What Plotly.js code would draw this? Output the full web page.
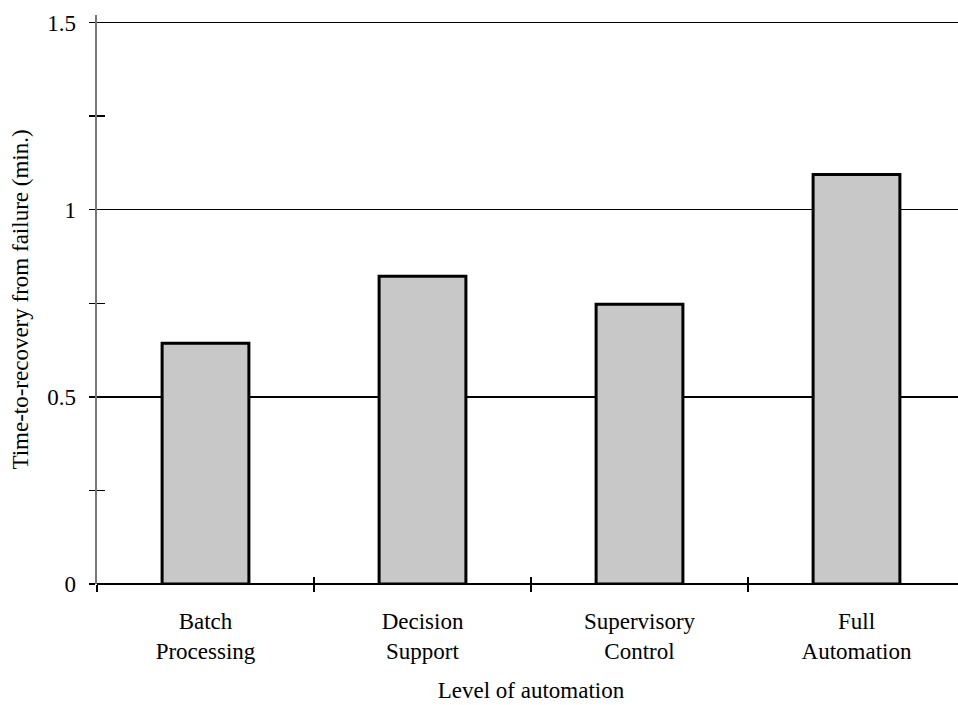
<!DOCTYPE html>
<html><head><meta charset="utf-8">
<script src="https://cdn.plot.ly/plotly-3.0.1.min.js"></script>
<style>html,body{margin:0;padding:0;overflow:hidden;background:#fff}</style>
</head><body><div id="chart"></div>
<script>
const categories = ["Batch<br>Processing", "Decision<br>Support", "Supervisory<br>Control", "Full<br>Automation"];
const recoveryTime = [0.643, 0.822, 0.747, 1.094];
const yTickVals = [0, 0.5, 1, 1.5];
const yTickText = ["0", "0.5", "1", "1.5"];
const catIndex = categories.map((c, i) => i);

const font = {family: "Liberation Serif, Times New Roman, serif", color: "#000"};
const FS = 23;
const yRange = [0, 1.52];

const data = [
  {type: "bar", x: categories, y: recoveryTime, width: 0.4,
   marker: {color: "#c8c8c8", line: {color: "#000", width: 3}}, hoverinfo: "skip"},
  {type: "scatter", mode: "markers", x: catIndex, y: recoveryTime, xaxis: "x2", yaxis: "y2",
   marker: {opacity: 0}, hoverinfo: "skip", showlegend: false}
];

const layout = {
  width: 975, height: 705,
  margin: {l: 97, r: 10, t: 15, b: 121},
  paper_bgcolor: "#fff", plot_bgcolor: "#fff",
  showlegend: false,
  font: Object.assign({size: FS}, font),
  xaxis: {
    type: "category", range: [-0.5, 3.5],
    tickson: "boundaries", ticks: "outside", ticklen: 7, tickwidth: 1.5, tickcolor: "#000",
    showline: false, showgrid: false, zeroline: false,
    ticklabelstandoff: 21,
    tickfont: Object.assign({size: FS}, font),
    title: {text: "Level of automation", font: Object.assign({size: FS}, font), standoff: 18}
  },
  yaxis: {
    range: yRange, tickvals: yTickVals, ticktext: yTickText,
    ticks: "outside", ticklen: 6, tickwidth: 1.5, tickcolor: "#000",
    showline: true, linecolor: "#777", linewidth: 2.5,
    showgrid: true, gridcolor: "#000", gridwidth: 1.6,
    zeroline: true, zerolinecolor: "#000", zerolinewidth: 2,
    minor: {dtick: 0.25, ticks: "outside", ticklen: 6, tickcolor: "#000", tickwidth: 1.2, showgrid: false},
    ticklabelstandoff: 8,
    tickfont: Object.assign({size: FS}, font),
    title: {text: "Time-to-recovery from failure (min.)", font: Object.assign({size: FS}, font), standoff: 12}
  },
  xaxis2: {
    overlaying: "x", anchor: "y2", range: [-0.5, 3.5],
    tickvals: [0.5, 1.5, 2.5], ticks: "inside", ticklen: 7, tickwidth: 1.5, tickcolor: "#000",
    showticklabels: false, showgrid: false, zeroline: false, showline: false
  },
  yaxis2: {
    overlaying: "y", anchor: "x2", side: "left", range: yRange,
    tickvals: yTickVals, ticks: "inside", ticklen: 8, tickwidth: 1.5, tickcolor: "#000",
    minor: {dtick: 0.25, ticks: "inside", ticklen: 8, tickcolor: "#000", tickwidth: 1.2, showgrid: false},
    showticklabels: false, showgrid: false, zeroline: false, showline: false
  }
};

Plotly.newPlot("chart", data, layout, {displayModeBar: false, staticPlot: true});
</script></body></html>
